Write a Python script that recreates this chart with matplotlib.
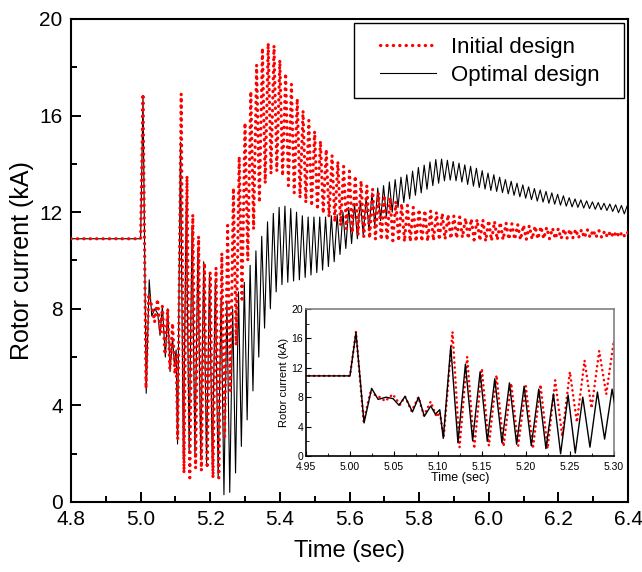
import numpy as np
import matplotlib
matplotlib.use("Agg")
import matplotlib.pyplot as plt
from matplotlib.patches import Rectangle
from matplotlib.ticker import MultipleLocator, FormatStrFormatter

plt.rcParams['font.family'] = ['Liberation Sans', 'DejaVu Sans']

PERIOD = 1.0 / 60.0   # rotor current ripple, 60 Hz
n_cyc = 78

# ---- Initial design (red dotted) ----
# early transient 4.8 .. 5.11 s
init_t_early = [4.80, 5.000, 5.0068, 5.0155, 5.023, 5.034, 5.040, 5.0485, 5.057,
                5.0625, 5.070, 5.0777, 5.084, 5.0917, 5.0985, 5.102, 5.1065]
init_v_early = [10.9, 10.9, 16.9, 4.7, 8.6, 8.0, 7.45, 8.4, 7.0,
                8.1, 6.1, 8.0, 5.5, 7.4, 5.3, 6.0, 2.6]
# one peak and one trough per cycle, first peak at 5.1165 s
init_peak_t0 = 5.1165
init_trough_t0 = 5.1245
init_peaks = [16.9, 13.5, 11.9, 11.0, 9.9, 9.5, 9.7, 10.3, 11.45, 13.0,
              14.3, 15.7, 17.0, 18.1, 18.8, 19.0, 18.9, 18.3, 17.75, 17.3,
              16.7, 16.2, 15.8, 15.35, 14.95, 14.6, 14.35, 14.1, 13.9, 13.7,
              13.5, 13.3, 13.1, 12.95, 12.8, 12.7, 12.6, 12.45, 12.35, 12.28,
              12.2, 12.12, 12.08, 12.05, 12.0, 11.95, 11.9, 11.85, 11.8, 11.75,
              11.72, 11.7, 11.68, 11.66, 11.62, 11.58, 11.55, 11.52, 11.49, 11.46,
              11.44, 11.42, 11.4, 11.37, 11.34, 11.32, 11.3, 11.29, 11.29, 11.28,
              11.28, 11.26, 11.24, 11.22, 11.21, 11.2, 11.18, 11.17]
init_troughs = [1.2, 1.0, 1.4, 1.3, 1.4, 1.0, 1.0, 2.7, 4.6, 6.5,
                8.4, 10.0, 11.3, 12.4, 13.2, 13.6, 13.7, 13.5, 13.1, 12.8,
                12.6, 12.4, 12.25, 12.1, 11.95, 11.8, 11.6, 11.45, 11.3, 11.15,
                11.05, 10.98, 10.92, 10.88, 10.85, 10.84, 10.82, 10.8, 10.78, 10.78,
                10.78, 10.79, 10.8, 10.83, 10.85, 10.88, 10.9, 10.92, 10.95, 10.9,
                10.85, 10.82, 10.8, 10.82, 10.85, 10.86, 10.87, 10.87, 10.86, 10.87,
                10.88, 10.89, 10.9, 10.9, 10.9, 10.9, 10.91, 10.92, 10.93, 10.94,
                10.95, 10.95, 10.95, 10.96, 10.96, 10.97, 10.98, 10.98]

# ---- Optimal design (black solid) ----
opt_t_early = [4.80, 5.000, 5.0068, 5.016, 5.0246, 5.032, 5.041, 5.049, 5.0557,
               5.0625, 5.071, 5.078, 5.0845, 5.0917, 5.097, 5.102]
opt_v_early = [10.9, 10.9, 16.8, 4.5, 9.2, 7.7, 8.0, 7.8, 6.9,
               8.1, 6.0, 8.0, 5.4, 6.8, 5.7, 6.3]
# one trough and one peak per cycle, first trough at 5.106 s
opt_trough_t0 = 5.106
opt_peak_t0 = 5.1145
opt_troughs = [2.4, 1.8, 2.1, 2.0, 1.8, 1.6, 1.4, 1.0, 0.3, 0.4,
               1.2, 2.3, 3.4, 4.6, 6.0, 7.2, 8.0, 8.7, 9.0, 9.1,
               9.15, 9.2, 9.3, 9.4, 9.5, 9.6, 9.75, 9.95, 10.25, 10.5,
               10.7, 10.9, 11.05, 11.25, 11.45, 11.65, 11.8, 12.0, 12.2, 12.4,
               12.55, 12.7, 12.8, 12.95, 13.1, 13.2, 13.3, 13.33, 13.3, 13.25,
               13.15, 13.08, 13.02, 12.96, 12.9, 12.86, 12.81, 12.76, 12.7, 12.64,
               12.58, 12.52, 12.46, 12.42, 12.37, 12.33, 12.29, 12.25, 12.22, 12.2,
               12.17, 12.15, 12.12, 12.1, 12.07, 12.03, 11.98, 11.93]
opt_peaks = [14.9, 12.5, 11.45, 10.5, 9.95, 9.5, 9.1, 8.45, 8.3, 8.0,
             8.7, 9.1, 9.8, 10.4, 11.0, 11.6, 11.95, 12.2, 12.25, 12.15,
             12.0, 11.85, 11.8, 11.8, 11.8, 11.8, 11.85, 11.9, 12.0, 12.2,
             12.35, 12.45, 12.6, 12.8, 13.0, 13.1, 13.25, 13.35, 13.45, 13.55,
             13.7, 13.85, 13.95, 14.08, 14.18, 14.2, 14.15, 14.1, 14.03, 13.96,
             13.9, 13.82, 13.72, 13.62, 13.55, 13.45, 13.35, 13.28, 13.2, 13.13,
             13.05, 12.98, 12.92, 12.86, 12.8, 12.74, 12.68, 12.6, 12.55, 12.51,
             12.47, 12.43, 12.4, 12.37, 12.34, 12.31, 12.28, 12.27]

cyc = np.arange(n_cyc) * PERIOD
init_t = np.concatenate([init_t_early,
                         np.column_stack([init_peak_t0 + cyc, init_trough_t0 + cyc]).ravel()])
init_v = np.concatenate([init_v_early,
                         np.column_stack([init_peaks, init_troughs]).ravel()])
opt_t = np.concatenate([opt_t_early,
                        np.column_stack([opt_trough_t0 + cyc, opt_peak_t0 + cyc]).ravel()])
opt_v = np.concatenate([opt_v_early,
                        np.column_stack([opt_troughs, opt_peaks]).ravel()])

fig = plt.figure(figsize=(6.42, 5.72), dpi=100)
ax = fig.add_axes([0.1106, 0.1224, 0.8676, 0.8444])

ax.plot(opt_t, opt_v, color='black', lw=0.8, label='Optimal design', zorder=2)
ax.plot(init_t, init_v, color='red', lw=2.3, ls=(0, (0.1, 1.9)),
        dash_capstyle='round', label='Initial design', zorder=3)

ax.set_xlim(4.8, 6.4)
ax.set_ylim(0, 20)
ax.xaxis.set_major_locator(MultipleLocator(0.2))
ax.xaxis.set_minor_locator(MultipleLocator(0.1))
ax.xaxis.set_major_formatter(FormatStrFormatter('%.1f'))
ax.yaxis.set_major_locator(MultipleLocator(4))
ax.yaxis.set_minor_locator(MultipleLocator(2))
ax.tick_params(which='both', direction='in', top=False, right=False, width=1.4, labelsize=15)
ax.tick_params(which='major', length=7.5, pad=6)
ax.tick_params(which='minor', length=4.5)
for s in ax.spines.values():
    s.set_linewidth(1.5)
ax.set_xlabel('Time (sec)', fontsize=17, labelpad=8)
ax.set_ylabel('Rotor current (kA)', fontsize=18, labelpad=4)

# legend box drawn separately for its wide padding
ax.add_patch(Rectangle((0.5081, 0.8364), 0.4847, 0.1553, transform=ax.transAxes,
                       facecolor='white', edgecolor='black', lw=1.0, zorder=4,
                       clip_on=False))
h, l = ax.get_legend_handles_labels()
leg = ax.legend(h[::-1], l[::-1], loc='upper left', bbox_to_anchor=(0.5548, 0.963),
                borderaxespad=0, borderpad=0, fontsize=16, frameon=False,
                handlelength=2.5, labelspacing=0.3, handletextpad=0.7)
leg.set_zorder(5)

# inset zoom on the fault period
axin = fig.add_axes([0.4766, 0.2028, 0.4798, 0.257])
axin.plot(init_t, init_v, color='red', lw=1.8, ls=(0, (0.1, 1.9)),
          dash_capstyle='round', zorder=2)
axin.plot(opt_t, opt_v, color='black', lw=1.0, zorder=3)
axin.set_xlim(4.95, 5.30)
axin.set_ylim(0, 20)
axin.xaxis.set_major_locator(MultipleLocator(0.05))
axin.xaxis.set_minor_locator(MultipleLocator(0.025))
axin.xaxis.set_major_formatter(FormatStrFormatter('%.2f'))
axin.yaxis.set_major_locator(MultipleLocator(4))
axin.yaxis.set_minor_locator(MultipleLocator(2))
axin.tick_params(which='both', direction='in', top=False, right=False, labelsize=7.5)
axin.tick_params(axis='x', pad=4.5)
axin.tick_params(axis='y', pad=2)
axin.tick_params(which='major', length=3.5)
axin.tick_params(which='minor', length=2)
axin.spines['top'].set_color('gray')
axin.spines['right'].set_color('gray')
for s in axin.spines.values():
    s.set_linewidth(1.2)
axin.set_xlabel('Time (sec)', fontsize=9, labelpad=0)
axin.set_ylabel('Rotor current (kA)', fontsize=8, labelpad=2)

fig.savefig('out.png', dpi=100)
